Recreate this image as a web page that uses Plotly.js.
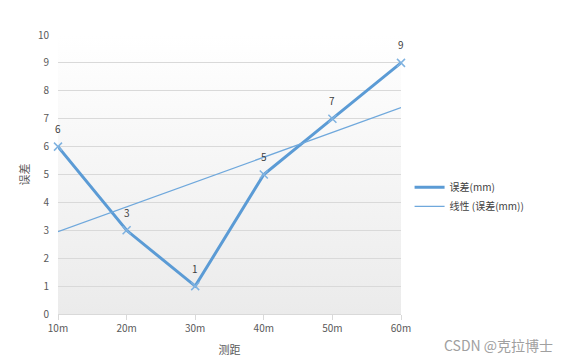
<!DOCTYPE html>
<html><head><meta charset="utf-8">
<script src="https://cdn.plot.ly/plotly-3.0.1.min.js"></script>
<style>html,body{margin:0;padding:0;background:#fff}#c{width:571px;height:363px}</style>
</head><body><div id="c"></div>
<script>
const categories = ['10m','20m','30m','40m','50m','60m'];
const errorValues = [6, 3, 1, 5, 7, 9];
const trendCategories = ['10m','60m'];
const trendValues = [2.95, 7.4];
const yTicks = [0,1,2,3,4,5,6,7,8,9,10];

const font = 'Noto Sans CJK SC, Open Sans, sans-serif';
const blue = '#5b9bd5';
const grad = 'data:image/svg+xml;utf8,' + encodeURIComponent(
 '<svg xmlns="http://www.w3.org/2000/svg" width="10" height="100" preserveAspectRatio="none"><defs><linearGradient id="g" x1="0" y1="0" x2="0" y2="1"><stop offset="0" stop-color="#ffffff"/><stop offset="1" stop-color="#ebebeb"/></linearGradient></defs><rect width="10" height="100" fill="url(#g)"/></svg>');

const traces = [
 {x: categories, y: errorValues, type:'scatter', mode:'lines',
  name:'误差(mm)', line:{color:blue, width:3}},
 {x: trendCategories, y: trendValues, type:'scatter', mode:'lines',
  name:'线性 (误差(mm))', line:{color:'#6fa8dc', width:1.2}},
 {x: categories, y: errorValues, type:'scatter', mode:'markers', showlegend:false,
  marker:{symbol:'x-thin-open', size:8, color:'#7fb2e0', line:{color:'#7fb2e0', width:1.5}},
  cliponaxis:false}
];

const labelAnnotations = categories.map((c, i) => ({
 x: c, y: errorValues[i], xref:'x', yref:'y', text: String(errorValues[i]),
 showarrow:false, yshift:18, font:{size:10, color:'#404040', family:font}
}));

const layout = {
 width:571, height:363,
 margin:{l:58, r:170, t:35, b:49},
 paper_bgcolor:'#ffffff', plot_bgcolor:'rgba(0,0,0,0)',
 font:{family:font, color:'#595959', size:10},
 showlegend:true,
 legend:{x:1.025, y:0.42, xanchor:'left', yanchor:'middle', font:{size:10, color:'#404040'},
  bgcolor:'rgba(0,0,0,0)', itemwidth:30, tracegroupgap:4},
 xaxis:{type:'category', categoryorder:'array', categoryarray:categories, range:[0,5],
  showgrid:false, zeroline:false, showline:true, linecolor:'#d9d9d9', linewidth:1,
  ticks:'outside', ticklen:5, tickcolor:'#d9d9d9', tickfont:{size:10, color:'#595959'},
  title:{text:'测距', font:{size:11, color:'#595959'}, standoff:12}},
 yaxis:{range:[0,10], tickvals:yTicks, showgrid:true, gridcolor:'#d9d9d9', gridwidth:1,
  zeroline:false, showline:false, ticks:'', ticklabelstandoff:8, tickfont:{size:10, color:'#595959'},
  title:{text:'误差', font:{size:11, color:'#595959'}, standoff:6}},
 images:[{source:grad, xref:'paper', yref:'paper', x:0, y:1, sizex:1, sizey:1,
  sizing:'stretch', layer:'below', xanchor:'left', yanchor:'top'}],
 annotations: labelAnnotations.concat([{text:'CSDN @克拉博士', xref:'paper', yref:'paper', x:1.449, y:-0.111,
  xanchor:'right', yanchor:'middle', showarrow:false, font:{size:14, color:'#a0a0a0', family:font}}])
};
Plotly.newPlot('c', traces, layout, {displayModeBar:false, staticPlot:true});
</script></body></html>
